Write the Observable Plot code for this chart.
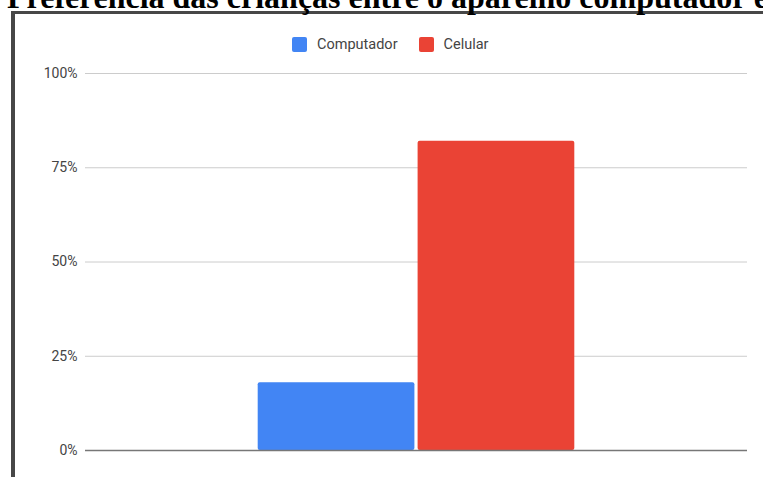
<!DOCTYPE html>
<html>
<head>
<meta charset="utf-8">
<script src="https://cdn.jsdelivr.net/npm/d3@7"></script>
<script src="https://cdn.jsdelivr.net/npm/@observablehq/plot@0.6"></script>
<style>
  html, body { margin: 0; padding: 0; background: #fff; }
  body { width: 763px; height: 477px; overflow: hidden; position: relative; }
  #title { position: absolute; left: 7px; top: -19px; font: bold 32px/32px "Liberation Serif", "Times New Roman", serif; color: #000; white-space: nowrap; }
  #frame { position: absolute; left: 11px; top: 11px; width: 800px; height: 500px; border-left: 4px solid #474747; border-top: 3px solid #474747; box-sizing: border-box; }
  #chart { position: absolute; left: 0; top: 0; }
  #legend { position: absolute; top: 37px; left: 292px; display: flex; align-items: center; font: 14.5px Roboto, "Liberation Sans", Arial, sans-serif; color: #444; }
  .sw { width: 15px; height: 15px; border-radius: 2px; display: inline-block; }
  .lab { margin-left: 10px; margin-right: 21px; line-height: 15px; }
</style>
</head>
<body>
<div id="frame"></div>
<div id="chart"></div>
<div id="title"></div>
<div id="legend"></div>
<script>
const titleText = "Preferência das crianças entre o aparelho computador e celular";
const series = ["Computador", "Celular"];
const values = [18, 82];
const colors = ["#4285F4", "#EA4335"];
const yTicks = [0, 25, 50, 75, 100];

document.getElementById("title").textContent = titleText;

const legend = document.getElementById("legend");
series.forEach((s, i) => {
  const sw = document.createElement("span");
  sw.className = "sw";
  sw.style.background = colors[i];
  const lab = document.createElement("span");
  lab.className = "lab";
  lab.textContent = s;
  legend.appendChild(sw);
  legend.appendChild(lab);
});

const data = series.map((s, i) => ({ serie: s, valor: values[i] }));

const chart = Plot.plot({
  width: 763,
  height: 477,
  marginLeft: 85,
  marginRight: 16,
  marginTop: 73,
  marginBottom: 27,
  style: { background: "transparent", fontFamily: "Roboto, 'Liberation Sans', Arial, sans-serif", fontSize: "14px", color: "#444" },
  x: { type: "band", domain: series, paddingInner: 0.02, paddingOuter: 1.08, round: false, axis: null },
  y: { domain: [0, 100], ticks: yTicks, tickFormat: d => d + "%", tickSize: 0, tickPadding: 8, label: null },
  color: { domain: series, range: colors },
  marks: [
    Plot.gridY(yTicks, { stroke: "#cccccc", strokeOpacity: 1, strokeWidth: 1 }),
    Plot.barY(data, { x: "serie", y: "valor", fill: "serie", rx: 2 }),
    Plot.ruleY([0], { stroke: "#777", strokeWidth: 1.6 })
  ]
});
document.getElementById("chart").appendChild(chart);
</script>
</body>
</html>
